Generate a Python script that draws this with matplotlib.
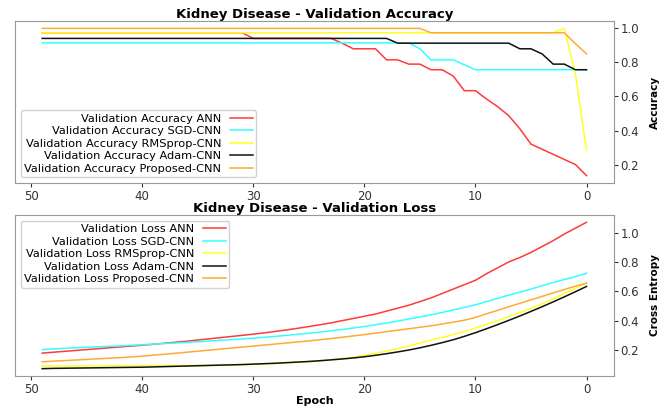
import numpy as np
import matplotlib

matplotlib.use("Agg")
import matplotlib.pyplot as plt

# epochs 0..49
epochs = np.arange(50)

# ---- validation accuracy ---------------------------------------------------
acc_ann = [0.135, 0.20, 0.23, 0.26, 0.29, 0.32, 0.41, 0.487, 0.54, 0.585,
           0.634, 0.634, 0.72, 0.757, 0.757, 0.79, 0.79, 0.815, 0.815, 0.88,
           0.88, 0.88, 0.913, 0.941, 0.941, 0.941, 0.941, 0.941, 0.941, 0.941,
           0.941] + [0.974] * 19
acc_sgd = [0.757] * 11 + [0.786, 0.815, 0.815, 0.815, 0.88] + [0.915] * 34
acc_rms = [0.285, 0.73, 1.0] + [0.974] * 47
acc_adam = [0.757, 0.757, 0.79, 0.79, 0.85, 0.88, 0.88] + [0.913] * 11 + [0.941] * 32
acc_prop = [0.85, 0.91] + [0.974] * 13 + [1.0] * 35

# ---- validation loss --------------------------------------------------------
loss_ann = [1.07, 1.03, 0.99, 0.945, 0.905, 0.865, 0.83, 0.80, 0.76, 0.72,
            0.675, 0.645, 0.615, 0.585, 0.555, 0.53, 0.505, 0.485, 0.465, 0.445,
            0.43, 0.415, 0.40, 0.385, 0.372, 0.36, 0.348, 0.337, 0.327, 0.317,
            0.308, 0.30, 0.292, 0.284, 0.276, 0.268, 0.26, 0.253, 0.246, 0.239,
            0.233, 0.227, 0.221, 0.215, 0.209, 0.203, 0.197, 0.191, 0.185, 0.179]
loss_sgd = [0.723, 0.70, 0.68, 0.66, 0.638, 0.615, 0.594, 0.574, 0.552, 0.53,
            0.508, 0.49, 0.473, 0.456, 0.44, 0.425, 0.411, 0.397, 0.384, 0.372,
            0.36, 0.35, 0.34, 0.331, 0.322, 0.314, 0.307, 0.30, 0.293, 0.287,
            0.281, 0.276, 0.271, 0.266, 0.261, 0.256, 0.252, 0.248, 0.244, 0.24,
            0.236, 0.232, 0.228, 0.225, 0.222, 0.219, 0.215, 0.211, 0.207, 0.203]
loss_rms = [0.656, 0.62, 0.585, 0.548, 0.515, 0.484, 0.455, 0.428, 0.40, 0.375,
            0.35, 0.326, 0.305, 0.285, 0.268, 0.248, 0.228, 0.21, 0.193, 0.178,
            0.163, 0.152, 0.142, 0.134, 0.127, 0.121, 0.116, 0.112, 0.108, 0.105,
            0.102, 0.10, 0.098, 0.097, 0.096, 0.095, 0.094, 0.094, 0.093, 0.093,
            0.093, 0.093, 0.093, 0.092, 0.092, 0.092, 0.091, 0.091, 0.091, 0.091]
loss_adam = [0.633, 0.597, 0.562, 0.528, 0.495, 0.463, 0.432, 0.402, 0.373, 0.345,
             0.318, 0.293, 0.27, 0.25, 0.232, 0.215, 0.20, 0.187, 0.175, 0.164,
             0.154, 0.146, 0.139, 0.133, 0.127, 0.122, 0.118, 0.114, 0.11, 0.107,
             0.104, 0.101, 0.099, 0.097, 0.095, 0.093, 0.091, 0.089, 0.087, 0.085,
             0.083, 0.082, 0.081, 0.08, 0.079, 0.078, 0.077, 0.076, 0.075, 0.073]
loss_prop = [0.656, 0.635, 0.612, 0.589, 0.565, 0.542, 0.518, 0.495, 0.47, 0.447,
             0.422, 0.403, 0.39, 0.377, 0.365, 0.355, 0.345, 0.335, 0.325, 0.315,
             0.305, 0.296, 0.287, 0.278, 0.27, 0.262, 0.255, 0.248, 0.241, 0.234,
             0.227, 0.22, 0.213, 0.206, 0.199, 0.192, 0.185, 0.178, 0.171, 0.165,
             0.158, 0.153, 0.148, 0.144, 0.14, 0.136, 0.132, 0.128, 0.124, 0.12]

models = ["ANN", "SGD-CNN", "RMSprop-CNN", "Adam-CNN", "Proposed-CNN"]
colors = ["#ff3a3a", "#33ffff", "#ffff22", "#111111", "#ffaa33"]
acc_series = [acc_ann, acc_sgd, acc_rms, acc_adam, acc_prop]
loss_series = [loss_ann, loss_sgd, loss_rms, loss_adam, loss_prop]

LEG = dict(fontsize=8.2, markerfirst=False, labelspacing=0.22,
           handlelength=2.0, borderpad=0.3, framealpha=0.9)


def style_axes(ax):
    # reference is mirrored: epoch runs right-to-left, y axis on the right
    ax.invert_xaxis()
    ax.yaxis.tick_right()
    ax.yaxis.set_label_position("right")
    for sp in ax.spines.values():
        sp.set_color("#999999")
    ax.tick_params(labelsize=8.5, colors="#333333", pad=2, length=3)


fig = plt.figure(figsize=(6.72, 4.07), dpi=100)
ax1 = fig.add_axes([0.0223, 0.5504, 0.891, 0.398])
ax2 = fig.add_axes([0.0223, 0.0762, 0.891, 0.3956])

for name, c, vals in zip(models, colors, acc_series):
    ax1.plot(epochs, vals, color=c, lw=1.1, label=f"Validation Accuracy {name}")
style_axes(ax1)
ax1.set_title("Kidney Disease - Validation Accuracy", fontsize=9.5,
              fontweight="bold", pad=2)
ax1.set_ylabel("Accuracy", fontsize=7.5, fontweight="bold", rotation=90,
               labelpad=8)
ax1.legend(loc="lower left", **LEG)

for name, c, vals in zip(models, colors, loss_series):
    ax2.plot(epochs, vals, color=c, lw=1.1, label=f"Validation Loss {name}")
style_axes(ax2)
ax2.set_title("Kidney Disease - Validation Loss", fontsize=9.5,
              fontweight="bold", pad=2)
ax2.set_ylabel("Cross Entropy", fontsize=7.5, fontweight="bold",
               rotation=90, labelpad=8)
ax2.set_xlabel("Epoch", fontsize=8, fontweight="bold", labelpad=0)
ax2.legend(loc="upper left", **LEG)

fig.savefig("out.png", dpi=100)
